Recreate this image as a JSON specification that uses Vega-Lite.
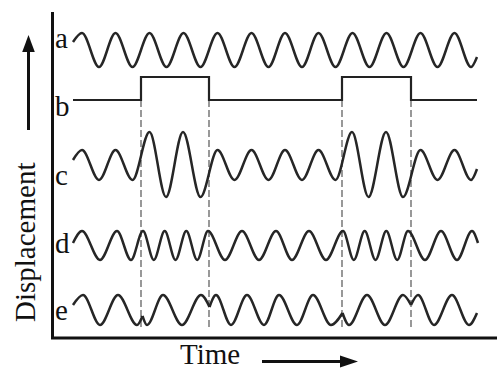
{
  "$schema": "https://vega.github.io/schema/vega-lite/v6.json",
  "width": 497,
  "height": 369,
  "autosize": {"type": "none"},
  "padding": 0,
  "background": "white",
  "config": {"view": {"stroke": null}},
  "datasets": {
    "frame": [
      {"s": "axes", "i": 0, "t": 0, "d": 326},
      {"s": "axes", "i": 1, "t": 0, "d": 0},
      {"s": "axes", "i": 2, "t": 444.5, "d": 0},
      {"s": "up", "i": 0, "t": -24, "d": 208},
      {"s": "up", "i": 1, "t": -24, "d": 288},
      {"s": "right", "i": 0, "t": 209.5, "d": -23.5},
      {"s": "right", "i": 1, "t": 290, "d": -23.5}
    ],
    "heads": [
      {"s": "up", "t": -24, "d": 294.5},
      {"s": "right", "t": 296.5, "d": -23.5}
    ],
    "guides": [
      {"s": "g1", "i": 0, "t": 88.5, "d": 238}, {"s": "g1", "i": 1, "t": 88.5, "d": 11},
      {"s": "g2", "i": 0, "t": 156.5, "d": 238}, {"s": "g2", "i": 1, "t": 156.5, "d": 11},
      {"s": "g3", "i": 0, "t": 289.5, "d": 238}, {"s": "g3", "i": 1, "t": 289.5, "d": 11},
      {"s": "g4", "i": 0, "t": 358.5, "d": 238}, {"s": "g4", "i": 1, "t": 358.5, "d": 11}
    ],
    "pulse": [
      {"i": 0, "t": 20.5, "d": 238}, {"i": 1, "t": 88.5, "d": 238}, {"i": 2, "t": 88.5, "d": 261},
      {"i": 3, "t": 156.5, "d": 261}, {"i": 4, "t": 156.5, "d": 238}, {"i": 5, "t": 289.5, "d": 238},
      {"i": 6, "t": 289.5, "d": 261}, {"i": 7, "t": 358.5, "d": 261}, {"i": 8, "t": 358.5, "d": 238},
      {"i": 9, "t": 424.5, "d": 238}
    ],
    "waves": [
      {"s": "a", "t": 20.5, "d": 296}, {"s": "a", "t": 29.5, "d": 305}, {"s": "a", "t": 46.5, "d": 271},
      {"s": "a", "t": 63, "d": 305}, {"s": "a", "t": 80, "d": 271}, {"s": "a", "t": 97, "d": 305},
      {"s": "a", "t": 114, "d": 271}, {"s": "a", "t": 131, "d": 305}, {"s": "a", "t": 148, "d": 271},
      {"s": "a", "t": 165, "d": 305}, {"s": "a", "t": 182, "d": 271}, {"s": "a", "t": 199, "d": 305},
      {"s": "a", "t": 216, "d": 271}, {"s": "a", "t": 232.5, "d": 305}, {"s": "a", "t": 249.5, "d": 271},
      {"s": "a", "t": 266, "d": 305}, {"s": "a", "t": 283, "d": 271}, {"s": "a", "t": 300, "d": 305},
      {"s": "a", "t": 317, "d": 271}, {"s": "a", "t": 334, "d": 305}, {"s": "a", "t": 351, "d": 271},
      {"s": "a", "t": 368, "d": 305}, {"s": "a", "t": 385, "d": 271}, {"s": "a", "t": 402, "d": 305},
      {"s": "a", "t": 418.5, "d": 271}, {"s": "a", "t": 424.5, "d": 281},

      {"s": "c", "t": 20.5, "d": 178}, {"s": "c", "t": 29.5, "d": 188}, {"s": "c", "t": 46.5, "d": 158},
      {"s": "c", "t": 63, "d": 188}, {"s": "c", "t": 80, "d": 158}, {"s": "c", "t": 97, "d": 206},
      {"s": "c", "t": 113.5, "d": 141}, {"s": "c", "t": 130.5, "d": 206}, {"s": "c", "t": 148, "d": 141},
      {"s": "c", "t": 165, "d": 188}, {"s": "c", "t": 182, "d": 158}, {"s": "c", "t": 199, "d": 188},
      {"s": "c", "t": 216, "d": 158}, {"s": "c", "t": 232.5, "d": 188}, {"s": "c", "t": 249.5, "d": 158},
      {"s": "c", "t": 266, "d": 188}, {"s": "c", "t": 283, "d": 158}, {"s": "c", "t": 299.5, "d": 206},
      {"s": "c", "t": 316, "d": 141}, {"s": "c", "t": 333.5, "d": 206}, {"s": "c", "t": 350.5, "d": 141},
      {"s": "c", "t": 368, "d": 188}, {"s": "c", "t": 385, "d": 158}, {"s": "c", "t": 402, "d": 188},
      {"s": "c", "t": 418.5, "d": 158}, {"s": "c", "t": 424.5, "d": 169},

      {"s": "d", "t": 20.5, "d": 95}, {"s": "d", "t": 29.5, "d": 107}, {"s": "d", "t": 47.5, "d": 78},
      {"s": "d", "t": 64.5, "d": 107}, {"s": "d", "t": 78.5, "d": 78}, {"s": "d", "t": 90.5, "d": 107},
      {"s": "d", "t": 101.3, "d": 78}, {"s": "d", "t": 112.2, "d": 107}, {"s": "d", "t": 123, "d": 78},
      {"s": "d", "t": 133.8, "d": 107}, {"s": "d", "t": 144.7, "d": 78}, {"s": "d", "t": 155.5, "d": 107},
      {"s": "d", "t": 172.5, "d": 78}, {"s": "d", "t": 189.5, "d": 107}, {"s": "d", "t": 206.5, "d": 78},
      {"s": "d", "t": 223.5, "d": 107}, {"s": "d", "t": 239.5, "d": 78}, {"s": "d", "t": 256.5, "d": 107},
      {"s": "d", "t": 273.5, "d": 78}, {"s": "d", "t": 290.5, "d": 107}, {"s": "d", "t": 301.3, "d": 78},
      {"s": "d", "t": 312.2, "d": 107}, {"s": "d", "t": 323, "d": 78}, {"s": "d", "t": 333.8, "d": 107},
      {"s": "d", "t": 344.7, "d": 78}, {"s": "d", "t": 355.5, "d": 107}, {"s": "d", "t": 372.5, "d": 78},
      {"s": "d", "t": 388.5, "d": 107}, {"s": "d", "t": 404.5, "d": 78}, {"s": "d", "t": 419.5, "d": 107},
      {"s": "d", "t": 425.5, "d": 95},

      {"s": "e1", "t": 20.5, "d": 33}, {"s": "e1", "t": 30.5, "d": 43}, {"s": "e1", "t": 47.5, "d": 13},
      {"s": "e1", "t": 65.5, "d": 43}, {"s": "e1", "t": 84.5, "d": 13}, {"s": "e1", "t": 90, "d": 22},
      {"s": "e2", "t": 90, "d": 22}, {"s": "e2", "t": 94.5, "d": 13}, {"s": "e2", "t": 110.5, "d": 43},
      {"s": "e2", "t": 129.5, "d": 13}, {"s": "e2", "t": 148.5, "d": 43}, {"s": "e2", "t": 157, "d": 31},
      {"s": "e3", "t": 157, "d": 31}, {"s": "e3", "t": 163.5, "d": 43}, {"s": "e3", "t": 178.5, "d": 13},
      {"s": "e3", "t": 194.5, "d": 43}, {"s": "e3", "t": 211.5, "d": 13}, {"s": "e3", "t": 226.5, "d": 43},
      {"s": "e3", "t": 244.5, "d": 13}, {"s": "e3", "t": 260.5, "d": 43}, {"s": "e3", "t": 278.5, "d": 13},
      {"s": "e3", "t": 290, "d": 25},
      {"s": "e4", "t": 290, "d": 25}, {"s": "e4", "t": 296.5, "d": 13}, {"s": "e4", "t": 314.5, "d": 43},
      {"s": "e4", "t": 332.5, "d": 13}, {"s": "e4", "t": 350.5, "d": 43}, {"s": "e4", "t": 358.5, "d": 33},
      {"s": "e5", "t": 358.5, "d": 33}, {"s": "e5", "t": 365.5, "d": 43}, {"s": "e5", "t": 381.5, "d": 13},
      {"s": "e5", "t": 399.5, "d": 43}, {"s": "e5", "t": 416.5, "d": 13}, {"s": "e5", "t": 424.5, "d": 25}
    ],
    "labels": [
      {"label": "a", "t": 2.5, "d": 290},
      {"label": "b", "t": 2.5, "d": 222},
      {"label": "c", "t": 2.5, "d": 153},
      {"label": "d", "t": 2.5, "d": 85},
      {"label": "e", "t": 2.5, "d": 18},
      {"label": "Time", "t": 127.5, "d": -26}
    ],
    "ylabel": [
      {"label": "Displacement", "t": -17.5, "d": 16}
    ]
  },
  "encoding": {
    "x": {"field": "t", "type": "quantitative", "scale": {"domain": [-52.5, 444.5], "nice": false, "zero": false}, "axis": null},
    "y": {"field": "d", "type": "quantitative", "scale": {"domain": [-31, 338], "nice": false, "zero": false}, "axis": null}
  },
  "layer": [
    {
      "data": {"name": "guides"},
      "mark": {"type": "line", "color": "#555555", "strokeWidth": 1.2, "strokeDash": [7, 3]},
      "encoding": {"detail": {"field": "s"}, "order": {"field": "i"}}
    },
    {
      "data": {"name": "frame"},
      "mark": {"type": "line", "color": "#111111", "strokeWidth": 3, "strokeJoin": "miter"},
      "encoding": {"detail": {"field": "s"}, "order": {"field": "i"}}
    },
    {
      "data": {"name": "heads"},
      "transform": [{"filter": "datum.s === 'up'"}],
      "mark": {"type": "point", "shape": "M0,-1L0.74,1L-0.74,1Z", "size": 289, "filled": true, "color": "#111111", "opacity": 1}
    },
    {
      "data": {"name": "heads"},
      "transform": [{"filter": "datum.s === 'right'"}],
      "mark": {"type": "point", "shape": "M1,0L-1,-0.67L-1,0.67Z", "size": 324, "filled": true, "color": "#111111", "opacity": 1}
    },
    {
      "data": {"name": "pulse"},
      "mark": {"type": "line", "color": "#222222", "strokeWidth": 2.2},
      "encoding": {"order": {"field": "i"}}
    },
    {
      "data": {"name": "waves"},
      "mark": {"type": "line", "color": "#262626", "strokeWidth": 2.5, "interpolate": "monotone"},
      "encoding": {"detail": {"field": "s"}}
    },
    {
      "data": {"name": "labels"},
      "mark": {"type": "text", "font": "Liberation Serif", "fontSize": 29, "align": "left", "baseline": "alphabetic", "color": "#111111"},
      "encoding": {"text": {"field": "label"}}
    },
    {
      "data": {"name": "ylabel"},
      "mark": {"type": "text", "font": "Liberation Serif", "fontSize": 29, "align": "left", "baseline": "alphabetic", "angle": 270, "color": "#111111"},
      "encoding": {"text": {"field": "label"}}
    }
  ]
}
